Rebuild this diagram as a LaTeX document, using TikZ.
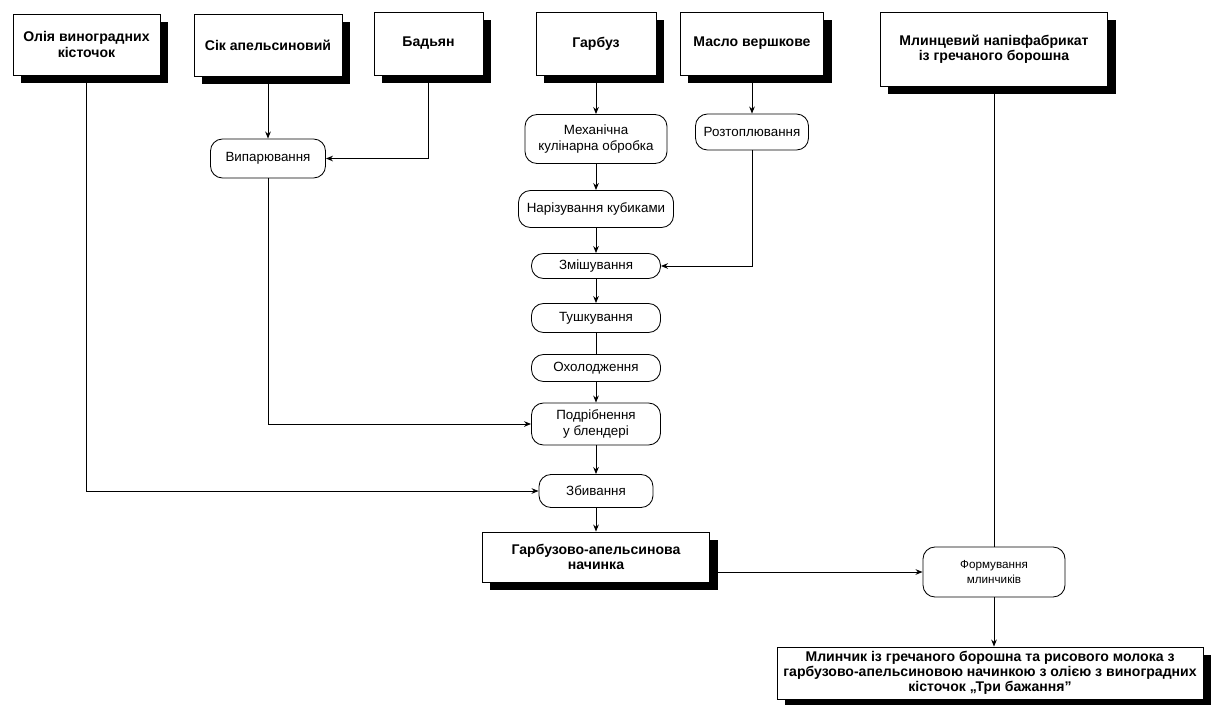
\documentclass[tikz,border=0pt]{standalone}
\usepackage{fontspec}
\setmainfont{Liberation Sans}
\usetikzlibrary{shadows}
\usetikzlibrary{arrows.meta}
\tikzstyle{arrow} = [->, >={Stealth[length=5pt,width=4pt]}]

\begin{document}
\begin{tikzpicture}[
  x=0.025cm, y=-0.025cm,
  every node/.style={font=\fontsize{9.5}{11.3}\selectfont, align=center, inner sep=0pt},
  ingred/.style={rectangle, draw=black, fill=white, line width=0.6pt, font=\fontsize{10}{10.8}\selectfont\bfseries,
    drop shadow={shadow xshift=0.2cm, shadow yshift=-0.2cm, fill=black, opacity=1}},
  process/.style={rectangle, rounded corners=0.3cm, draw=black, fill=white, line width=0.6pt},
  line width=0.7pt
]
\useasboundingbox (0,0) rectangle (1217,704);

\node[ingred, minimum width=3.675cm, minimum height=1.525cm] (oil) at (86.5,44.5) {Олія виноградних\\кісточок};
\node[ingred, minimum width=3.7cm, minimum height=1.55cm] (juice) at (268,45) {Сік апельсиновий};
\node[ingred, minimum width=2.725cm, minimum height=1.575cm] (anise) at (428.5,43.5) {Бадьян};
\node[ingred, minimum width=3.0cm, minimum height=1.575cm] (pumpkin) at (596,43.5) {Гарбуз};
\node[ingred, minimum width=3.575cm, minimum height=1.575cm] (butter) at (752,43.5) {Масло вершкове};
\node[ingred, minimum width=5.675cm, minimum height=1.85cm] (dough) at (994,49) {Млинцевий напівфабрикат\\із гречаного борошна};

\node[process, minimum width=2.875cm, minimum height=0.975cm] (evap) at (268,158.5) {Випарювання};
\node[process, minimum width=3.55cm, minimum height=1.225cm] (mech) at (596,139) {Механічна\\кулінарна обробка};
\node[process, minimum width=2.825cm, minimum height=0.9cm] (melt) at (752,132) {Розтоплювання};
\node[process, minimum width=3.875cm, minimum height=0.925cm] (cut) at (596,209) {Нарізування кубиками};
\node[process, minimum width=3.225cm, minimum height=0.625cm] (mix) at (596,266) {Змішування};
\node[process, minimum width=3.225cm, minimum height=0.725cm] (stew) at (596,318) {Тушкування};
\node[process, minimum width=3.225cm, minimum height=0.675cm] (cool) at (596,368) {Охолодження};
\node[process, minimum width=3.225cm, minimum height=1.05cm] (grind) at (596,424) {Подрібнення\\у блендері};
\node[process, minimum width=2.85cm, minimum height=0.825cm] (whip) at (596,491) {Збивання};

\node[ingred, minimum width=5.675cm, minimum height=1.25cm] (filling) at (596,557) {Гарбузово-апельсинова\\начинка};
\node[process, minimum width=3.55cm, minimum height=1.25cm, font=\fontsize{8.3}{10.5}\selectfont] (form) at (994,572) {Формування\\млинчиків};
\node[ingred, minimum width=10.65cm, minimum height=1.3cm] (dish) at (990,673) {Млинчик із гречаного борошна та рисового молока з\\гарбузово-апельсиновою начинкою з олією з виноградних\\кісточок „Три бажання”};

\draw[arrow] (juice.south) -- (evap.north);
\draw[arrow] (anise.south) |- (evap.east);
\draw[arrow] (evap.south) |- (grind.west);
\draw[arrow] (oil.south) |- (whip.west);

\draw[arrow] (pumpkin.south) -- (mech.north);
\draw[arrow] (mech.south) -- (cut.north);
\draw[arrow] (cut.south) -- (mix.north);
\draw[arrow] (butter.south) -- (melt.north);
\draw[arrow] (melt.south) |- (mix.east);
\draw[arrow] (mix.south) -- (stew.north);
\draw (stew.south) -- (cool.north);
\draw[arrow] (cool.south) -- (grind.north);
\draw[arrow] (grind.south) -- (whip.north);
\draw[arrow] (whip.south) -- (filling.north);

\draw[arrow] (filling.east |- form.west) -- (form.west);
\draw (dough.south) -- (form.north);
\draw[arrow] (form.south) -- (form.south |- dish.north);

\end{tikzpicture}
\end{document}
